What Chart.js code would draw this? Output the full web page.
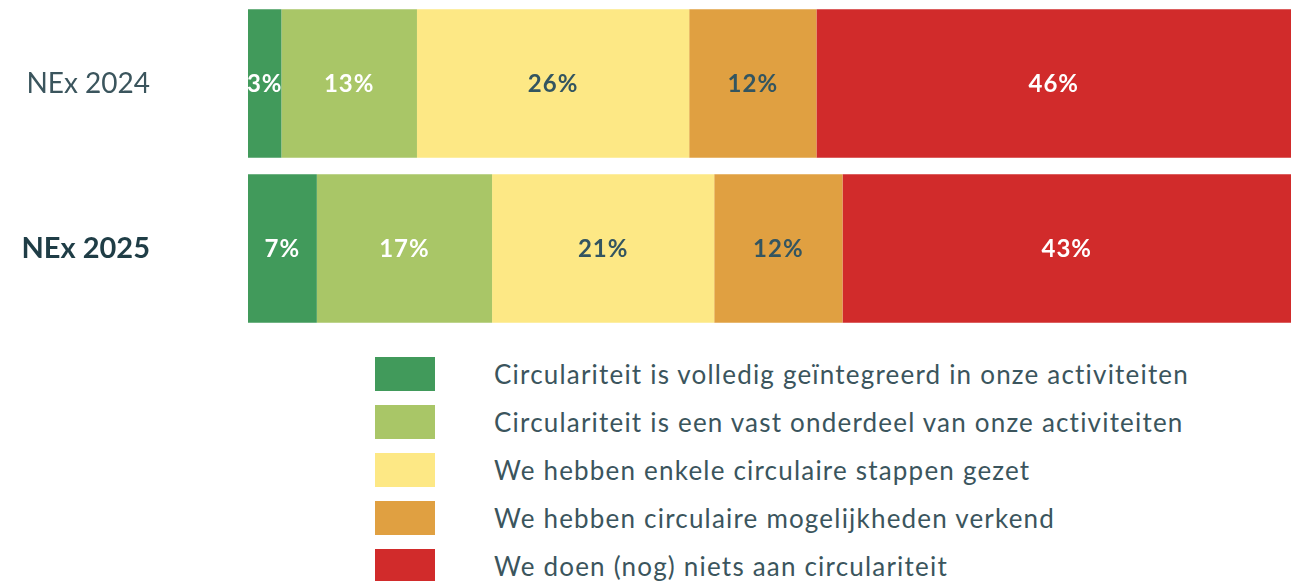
<!DOCTYPE html>
<html>
<head>
<meta charset="utf-8">
<script src="https://cdn.jsdelivr.net/npm/chart.js@4"></script>
<style>
  body { margin: 0; background: #fff; font-family: 'Lato', sans-serif; overflow: hidden; }
  #wrap { position: relative; width: 1291px; height: 331px; }
  #legend { margin: 19px 0 0 375px; padding: 0; list-style: none; }
  #legend li { display: flex; align-items: center; height: 48px; }
  #legend .box { width: 60px; height: 34px; flex: none; }
  #legend .txt { margin-left: 59px; font-size: 26px; color: #3b555d; letter-spacing: 1.2px; }
</style>
</head>
<body>
<div id="wrap"><canvas id="chart"></canvas></div>
<ul id="legend"></ul>
<script>
// Years / rows
const categories = ['NEx 2024', 'NEx 2025'];

// Answer options
const answers = [
    'Circulariteit is volledig geïntegreerd in onze activiteiten',
    'Circulariteit is een vast onderdeel van onze activiteiten',
    'We hebben enkele circulaire stappen gezet',
    'We hebben circulaire mogelijkheden verkend',
    'We doen (nog) niets aan circulariteit',
];

// Share per answer (%)
const volledig = [3.2, 6.6];
const vastOnderdeel = [13.0, 16.8];
const enkeleStappen = [26.1, 21.3];
const verkend = [12.2, 12.3];
const niets = [45.5, 43.0];

const series = [volledig, vastOnderdeel, enkeleStappen, verkend, niets];
const COLORS = ['#419a5b', '#a9c667', '#fde885', '#e0a041', '#d12b2b'];
const LABEL_COLORS = ['#ffffff', '#ffffff', '#335560', '#335560', '#ffffff'];

// draws the percentage in the middle of each segment
const segmentLabels = {
    id: 'segmentLabels',
    afterDatasetsDraw(chart) {
        const ctx = chart.ctx;
        ctx.save();
        ctx.font = "bold 24px 'Lato', sans-serif";
        ctx.letterSpacing = '1px';
        ctx.textAlign = 'center';
        ctx.textBaseline = 'middle';
        chart.data.datasets.forEach((ds, i) => {
            chart.getDatasetMeta(i).data.forEach((bar, j) => {
                const cx = (bar.x + bar.base) / 2;
                ctx.fillStyle = LABEL_COLORS[i];
                ctx.fillText(Math.round(ds.data[j]) + '%', cx, bar.y + 1);
            });
        });
        ctx.restore();
    }
};

new Chart(document.getElementById('chart'), {
    type: 'bar',
    data: {
        labels: categories,
        datasets: series.map((values, i) => ({
            label: answers[i],
            data: values,
            backgroundColor: COLORS[i],
            borderWidth: 0,
            barPercentage: 0.9,
            categoryPercentage: 1,
        }))
    },
    options: {
        indexAxis: 'y',
        responsive: true,
        maintainAspectRatio: false,
        animation: false,
        layout: { padding: { top: 1, bottom: 0, left: 0, right: 0 } },
        scales: {
            x: { stacked: true, min: 0, max: 100, display: false },
            y: {
                stacked: true,
                grid: { display: false },
                border: { display: false },
                afterFit: (scale) => {
                    // tick padding would otherwise also eat into the top/bottom
                    scale.width = 248;
                    scale.paddingTop = 0;
                    scale.paddingBottom = 0;
                },
                ticks: {
                    padding: 90,
                    color: (c) => c.index === 1 ? '#1f3d46' : '#3b555d',
                    font: (c) => ({
                        family: "'Lato', sans-serif",
                        size: c.index === 1 ? 29 : 28,
                        weight: c.index === 1 ? 'bold' : 'normal',
                    }),
                }
            }
        },
        plugins: { legend: { display: false }, tooltip: { enabled: false } }
    },
    plugins: [segmentLabels]
});

// legend, one answer per line
const legend = document.getElementById('legend');
answers.forEach((a, i) => {
    const li = document.createElement('li');
    li.innerHTML = `<span class="box" style="background:${COLORS[i]}"></span><span class="txt">${a}</span>`;
    legend.appendChild(li);
});
</script>
</body>
</html>
